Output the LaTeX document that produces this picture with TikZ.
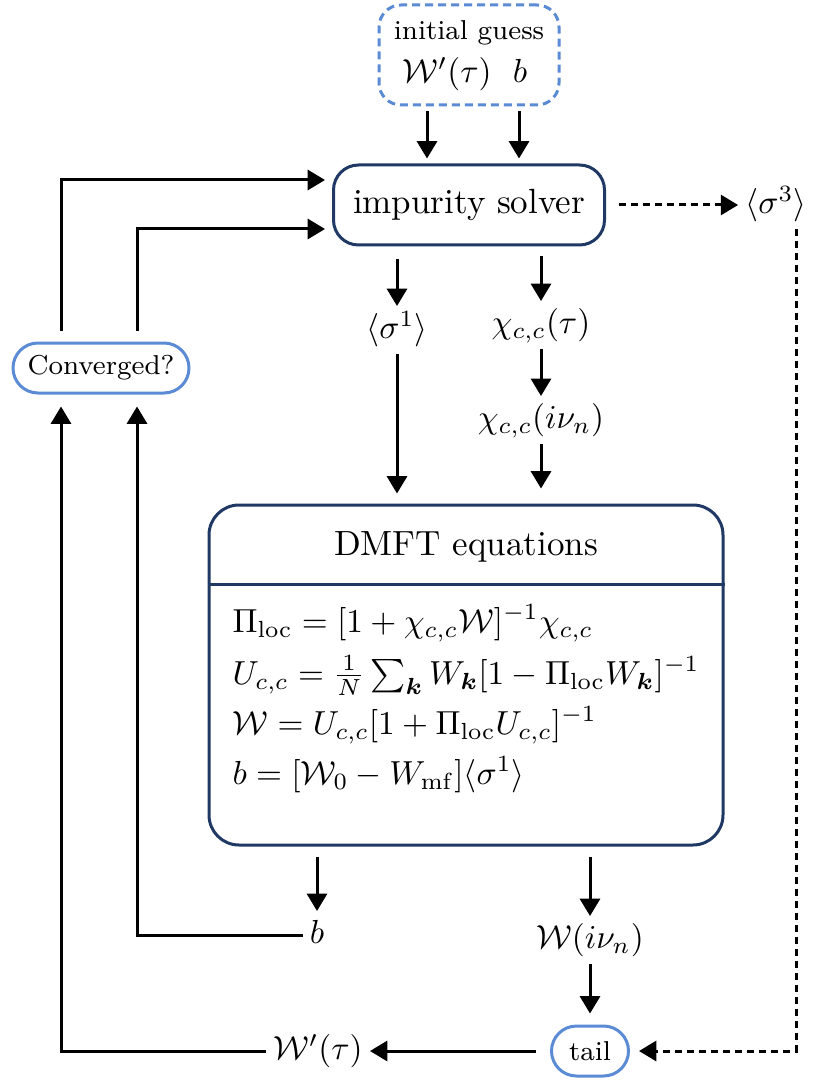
\documentclass[tikz,border=0pt]{standalone}
\usepackage{amsmath,bm}
\usetikzlibrary{arrows.meta}
\definecolor{navyline}{HTML}{1F3864}
\definecolor{lightline}{HTML}{5B8BD4}
\begin{document}
\begin{tikzpicture}[x=0.3pt,y=-0.3pt,
  tip/.style={-{Triangle[length=5.2pt,width=6pt]}},
  arr/.style={line width=0.9pt,tip},
  dsh/.style={line width=0.9pt,dash pattern=on 2.2pt off 1.4pt,tip},
  lbl/.style={inner sep=2pt,text height=7.5pt,text depth=2.5pt},
  eqline/.style={anchor=base west,inner sep=0pt},
  smalltext/.style={font=\fontsize{8.2}{10}\selectfont},
  bigtext/.style={font=\fontsize{10.5}{12.5}\selectfont},
  navybox/.style={draw=navyline,line width=0.9pt,rounded corners=7.5pt},
  bluebox/.style={draw=lightline,line width=0.9pt,rounded corners=7.5pt},
]
\useasboundingbox (0,0) rectangle (824,1082);

% initial guess
\node[draw=lightline,line width=0.9pt,dash pattern=on 2.4pt off 1.5pt,
      rounded corners=6.6pt,minimum width=54pt,minimum height=30pt] (guess) at (469,55) {};
\node[smalltext] (gtitle) at (469,33) {initial guess};
\node[lbl] (gW) at (447,74) {$\mathcal{W}'(\tau)$};
\node[lbl] (gb) at (520,74) {$b$};

% impurity solver
\node[navybox,bigtext,minimum width=81.3pt,minimum height=24pt] (solver) at (469,205) {impurity solver};
\node[lbl] (s3) at (776,205) {$\langle\sigma^3\rangle$};

% convergence check
\node[bluebox,smalltext,minimum width=52.8pt,minimum height=15pt] (conv) at (101,368) {Converged?};

% solver outputs
\node[lbl] (s1) at (397,330) {$\langle\sigma^1\rangle$};
\node[lbl] (chit) at (541,325) {$\chi_{c,c}(\tau)$};
\node[lbl] (chiw) at (541,420) {$\chi_{c,c}(i\nu_n)$};

% DMFT equations block
\node[navybox,rounded corners=9pt,minimum width=154.2pt,minimum height=102pt] (dmft) at (466,675) {};
\coordinate (sep) at (466,584);
\draw[draw=navyline,line width=0.9pt] (dmft.west |- sep) -- (dmft.east |- sep);
\node[bigtext] (dtitle) at (466,547) {DMFT equations};
\node[eqline] (eq1) at (232,632) {$\Pi_{\mathrm{loc}} = [1+\chi_{c,c}\mathcal{W}]^{-1}\chi_{c,c}$};
\node[eqline] (eq2) at (232,684) {$U_{c,c} = \frac{1}{N}\sum_{\bm{k}} W_{\bm{k}}[1-\Pi_{\mathrm{loc}}W_{\bm{k}}]^{-1}$};
\node[eqline] (eq3) at (232,734) {$\mathcal{W} = U_{c,c}[1+\Pi_{\mathrm{loc}}U_{c,c}]^{-1}$};
\node[eqline] (eq4) at (232,784) {$b = [\mathcal{W}_0 - W_{\mathrm{mf}}]\langle\sigma^1\rangle$};

% outputs of the DMFT step
\node[lbl] (bout) at (317,935) {$b$};
\node[lbl] (Wn) at (590,940) {$\mathcal{W}(i\nu_n)$};
\node[bluebox,smalltext,minimum width=23.1pt,minimum height=15pt] (tail) at (590,1051) {tail};
\node[lbl] (Wp) at (318,1051) {$\mathcal{W}'(\tau)$};
\coordinate (corner) at (796,1051);

% connectors
\draw[arr,shorten <=1.5pt,shorten >=1.5pt] ([xshift=-12.6pt]guess.south) -- ([xshift=-12.6pt]solver.north);
\draw[arr,shorten <=1.5pt,shorten >=1.5pt] ([xshift=15pt]guess.south) -- ([xshift=15pt]solver.north);

\draw[dsh,shorten <=3.9pt] (solver) -- (s3);
\draw[dsh,shorten >=2.7pt] (s3.south -| corner) -- (corner) -- (tail);

\draw[arr,shorten <=3.9pt] (solver.south -| s1) -- (s1);
\draw[arr,shorten <=3pt] (solver.south -| chit) -- (chit);
\draw[arr] (chit) -- (chiw);
\draw[arr,shorten >=4.5pt] (chiw) -- (chiw |- dmft.north);
\draw[arr,shorten >=3pt] (s1) -- (s1 |- dmft.north);

\draw[arr,shorten <=3pt] (dmft.south -| bout) -- (bout);
\draw[arr,shorten <=3pt] (dmft.south -| Wn) -- (Wn);
\draw[arr,shorten >=3.3pt] (Wn) -- (tail);
\draw[arr,shorten <=4.2pt] (tail) -- (Wp);

\draw[arr,shorten >=3.6pt] (Wp.west) -| ([xshift=-12pt]conv.south);
\draw[arr,shorten >=3.6pt] (bout.west) -| ([xshift=10.8pt]conv.south);

\draw[arr,shorten >=2.1pt] ([xshift=-12pt,yshift=3.3pt]conv.north) |- ([yshift=7.5pt]solver.west);
\draw[arr,shorten >=2.1pt] ([xshift=10.8pt,yshift=3.3pt]conv.north) |- ([yshift=-7.2pt]solver.west);
\end{tikzpicture}
\end{document}
